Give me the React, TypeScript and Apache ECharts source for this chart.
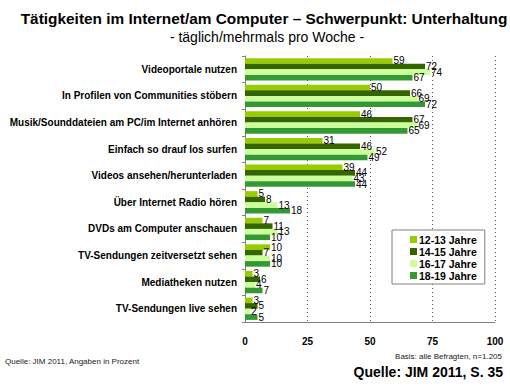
import React, { useEffect, useRef } from "react";
import * as echarts from "echarts";

const categories = [
  "Videoportale nutzen",
  "In Profilen von Communities stöbern",
  "Musik/Sounddateien am PC/im Internet anhören",
  "Einfach so drauf los surfen",
  "Videos ansehen/herunterladen",
  "Über Internet Radio hören",
  "DVDs am Computer anschauen",
  "TV-Sendungen zeitversetzt sehen",
  "Mediatheken nutzen",
  "TV-Sendungen live sehen",
];
const seriesNames = ["12-13 Jahre", "14-15 Jahre", "16-17 Jahre", "18-19 Jahre"];
const age12_13 = [59, 50, 46, 31, 39, 5, 7, 10, 3, 3];
const age14_15 = [72, 66, 67, 46, 44, 8, 11, 7, 6, 5];
const age16_17 = [74, 69, 69, 52, 43, 13, 13, 10, 4, 2];
const age18_19 = [67, 72, 65, 49, 44, 18, 10, 10, 7, 5];
const colors = ["#99cc00", "#336600", "#ccff99", "#339933"];
const xTicks = [0, 25, 50, 75, 100];

const FONT = "'Liberation Sans', Arial, sans-serif";

export default function App() {
  const ref = useRef<HTMLDivElement>(null);
  useEffect(() => {
    if (!ref.current) return;
    const chart = echarts.init(ref.current, null, { renderer: "svg" });
    const data = [age12_13, age14_15, age16_17, age18_19];
    chart.setOption({
      animation: false,
      backgroundColor: "#ffffff",
      textStyle: { fontFamily: FONT },
      title: [
        {
          text: "Tätigkeiten im Internet/am Computer – Schwerpunkt: Unterhaltung",
          left: 259,
          textAlign: "center",
          top: 6,
          textStyle: { fontSize: 15.4, fontWeight: "bold", color: "#000", fontFamily: FONT },
        },
        {
          text: "- täglich/mehrmals pro Woche -",
          left: 262,
          textAlign: "center",
          top: 25,
          textStyle: { fontSize: 14, fontWeight: "normal", color: "#000", fontFamily: FONT },
        },
      ],
      legend: {
        orient: "vertical",
        left: 392,
        top: 230,
        width: 96,
        padding: [4, 8, 3, 18],
        itemWidth: 7,
        itemHeight: 7,
        itemGap: 1,
        icon: "rect",
        borderColor: "#808080",
        borderWidth: 1,
        backgroundColor: "#fff",
        data: seriesNames,
        textStyle: { fontSize: 10.5, fontWeight: "bold", color: "#000", fontFamily: FONT, padding: [0, 0, 0, -3] },
      },
      grid: { left: 245, right: 15, top: 56, bottom: 64, containLabel: false },
      xAxis: {
        type: "value",
        min: xTicks[0],
        max: xTicks[xTicks.length - 1],
        interval: 25,
        axisLine: { show: true, lineStyle: { color: "#808080" } },
        axisTick: { show: false },
        axisLabel: { fontSize: 10, fontWeight: "bold", color: "#000", margin: 14, fontFamily: FONT },
        splitLine: { show: true, lineStyle: { type: [1, 3], color: "#555" } },
      },
      yAxis: {
        type: "category",
        data: categories,
        inverse: true,
        axisLine: { show: true, lineStyle: { color: "#808080" } },
        axisTick: { show: true, length: 3, inside: false, lineStyle: { color: "#808080" } },
        axisLabel: { fontSize: 10, fontWeight: "bold", color: "#000", margin: 8, fontFamily: FONT },
      },
      series: seriesNames.map((name, i) => ({
        name,
        type: "bar",
        data: data[i],
        barGap: "0%",
        barCategoryGap: "16%",
        itemStyle: { color: colors[i] },
        label: {
          show: true,
          position: "right",
          distance: 1,
          fontSize: 10,
          color: "#000",
          fontFamily: FONT,
        },
      })),
      graphic: [
        {
          type: "text",
          left: 5,
          top: 357,
          style: { text: "Quelle: JIM 2011, Angaben in Prozent", fontSize: 8, fill: "#222", fontFamily: FONT },
        },
        {
          type: "text",
          right: 8,
          top: 352,
          style: { text: "Basis: alle Befragten, n=1.205", fontSize: 8, fill: "#222", fontFamily: FONT },
        },
        {
          type: "text",
          right: 7,
          top: 365,
          style: { text: "Quelle: JIM 2011, S. 35", fontSize: 14, fontWeight: "bold", fill: "#000", fontFamily: FONT },
        },
      ],
    });
    return () => chart.dispose();
  }, []);
  return <div ref={ref} style={{ width: 510, height: 386, position: "absolute", left: 0, top: 0 }} />;
}
